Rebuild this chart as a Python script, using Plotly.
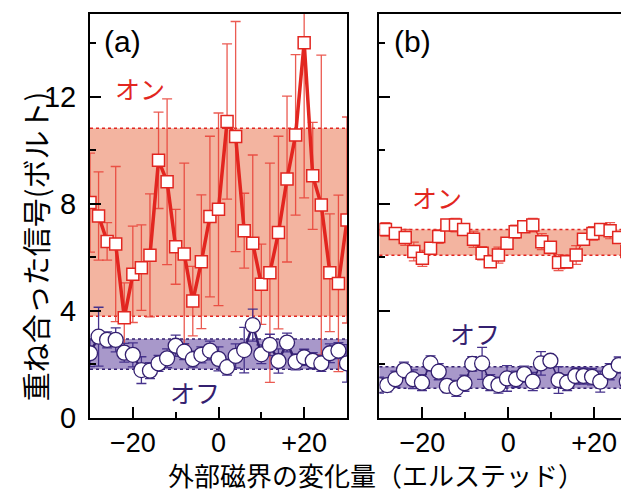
import plotly.graph_objects as go

# ---------------- data ----------------
x_a = [-30, -28, -26, -24, -22, -20, -18, -16, -14, -12, -10, -8, -6, -4, -2, 0,
       2, 4, 6, 8, 10, 12, 14, 16, 18, 20, 22, 24, 26, 28, 30]
on_a = [8.05, 7.55, 6.6, 6.5, 3.75, 5.37, 5.62, 6.08, 9.63, 8.83, 6.40, 6.13, 4.37, 5.84, 7.53, 7.8,
        11.08, 10.52, 7.0, 6.53, 5.0, 5.43, 6.93, 8.93, 10.58, 14.03, 9.05, 7.96, 5.43, 5.03, 7.4]
on_a_err = [1.85, 1.65, 0.7, 2.9, 1.3, 1.8, 1.6, 2.3, 1.8, 3.1, 1.4, 3.4, 1.3, 2.5, 3.0, 3.6,
            2.9, 4.3, 1.4, 3.3, 1.5, 4.1, 3.6, 3.1, 3.0, 5.8, 2.0, 5.6, 2.2, 3.3, 3.85]
off_a = [2.42, 3.04, 2.92, 2.92, 2.44, 2.36, 1.79, 1.77, 2.04, 2.23, 2.70, 2.48, 2.20, 2.36, 2.52, 2.21,
         1.90, 2.32, 2.54, 3.47, 2.38, 2.73, 2.13, 2.82, 2.10, 2.27, 2.14, 2.04, 2.42, 2.52, 2.04]
off_a_err = [0.5, 1.1, 0.3, 0.45, 0.35, 0.45, 0.5, 0.3, 0.3, 0.35, 0.4, 0.3, 0.3, 0.3, 0.35, 0.45,
             0.3, 0.45, 0.85, 0.6, 0.35, 0.4, 0.45, 0.35, 0.3, 0.3, 0.3, 0.3, 0.35, 0.3, 0.7]

x_b_on = [-28.6, -26.3, -24.0, -22.0, -20.0, -18.1, -16.2, -14.3, -12.3, -10.4, -8.1, -6.1, -4.2, -2.3,
          -0.3, 1.6, 3.6, 5.7, 7.8, 9.8, 11.7, 13.6, 15.8, 17.5, 19.7, 21.5, 23.7, 25.7, 27.6]
on_b = [7.05, 6.90, 6.75, 6.22, 5.97, 6.34, 6.78, 7.21, 7.21, 7.05, 6.68, 6.16, 5.84, 6.09,
        6.53, 6.96, 7.15, 7.21, 6.59, 6.38, 5.81, 5.84, 6.09, 6.68, 6.90, 7.05, 7.00, 6.75, 6.22]
on_b_err = [0.25, 0.2, 0.3, 0.35, 0.3, 0.2, 0.25, 0.2, 0.25, 0.2, 0.3, 0.25, 0.2, 0.3,
            0.2, 0.25, 0.2, 0.25, 0.3, 0.2, 0.3, 0.25, 0.35, 0.2, 0.25, 0.2, 0.3, 0.2, 0.3]
x_b_off = [-30.1, -28.2, -26.3, -24.3, -22.2, -20.1, -18.1, -16.2, -14.3, -12.1, -10.2, -8.4, -6.1, -4.2,
           -2.3, -0.3, 1.8, 3.7, 5.7, 7.6, 9.8, 11.7, 13.7, 15.6, 17.5, 19.5, 21.4, 23.6, 25.7, 27.6]
off_b = [1.23, 1.23, 1.45, 1.79, 1.45, 1.32, 2.04, 1.73, 1.20, 1.11, 1.30, 2.02, 2.04, 1.32,
         1.23, 1.48, 1.45, 1.64, 1.36, 2.04, 2.14, 1.42, 1.32, 1.57, 1.57, 1.54, 1.36, 1.73, 1.98, 1.36]
off_b_err = [0.3, 0.25, 0.3, 0.3, 0.35, 0.3, 0.28, 0.3, 0.25, 0.3, 0.3, 0.27, 0.6, 0.3,
             0.3, 0.48, 0.3, 0.3, 0.34, 0.44, 0.18, 0.5, 0.3, 0.3, 0.3, 0.3, 0.39, 0.3, 0.3, 0.44]

band_a_on = [3.8, 10.83]
band_a_off = [1.82, 2.95]
band_b_on = [6.08, 7.05]
band_b_off = [1.11, 1.92]

x_tickvals = [-20, 0, 20]
x_ticktext = ["\u221220", "0", "+20"]
y_tickvals = [0, 4, 8, 12]
y_ticktext = ["0", "4", "8", "12"]

# ---------------- style ----------------
RED = "rgb(226,38,32)"
RED_ERR = "rgba(232,62,52,0.85)"
RED_FILL = "rgb(243,180,160)"
PUR = "rgb(52,32,112)"
PUR_ERR = "rgb(70,50,140)"
PUR_FILL = "rgb(168,152,202)"
FONT = "Liberation Sans, Arial, sans-serif"
JP = "Noto Sans CJK JP, sans-serif"

fig = go.Figure()

# panel (a)
fig.add_trace(go.Scatter(
    x=x_a, y=on_a, mode="lines+markers", xaxis="x", yaxis="y",
    line=dict(color=RED, width=3.5),
    marker=dict(symbol="square", size=12, color="white", line=dict(color=RED, width=1.5)),
    error_y=dict(type="data", array=on_a_err, color=RED_ERR, thickness=1.3, width=5),
    showlegend=False))
fig.add_trace(go.Scatter(
    x=x_a, y=off_a, mode="lines+markers", xaxis="x", yaxis="y",
    line=dict(color=PUR, width=2.5),
    marker=dict(symbol="circle", size=15, color="white", line=dict(color=PUR, width=1.3)),
    error_y=dict(type="data", array=off_a_err, color=PUR_ERR, thickness=1.3, width=5),
    showlegend=False))

# panel (b)
fig.add_trace(go.Scatter(
    x=x_b_on, y=on_b, mode="lines+markers", xaxis="x2", yaxis="y2",
    line=dict(color=RED, width=1.2),
    marker=dict(symbol="square", size=12, color="white", line=dict(color=RED, width=1.5)),
    error_y=dict(type="data", array=on_b_err, color=RED_ERR, thickness=1.2, width=5),
    showlegend=False))
fig.add_trace(go.Scatter(
    x=x_b_off, y=off_b, mode="lines+markers", xaxis="x2", yaxis="y2",
    line=dict(color=PUR, width=1.5),
    marker=dict(symbol="circle", size=15, color="white", line=dict(color=PUR, width=1.3)),
    error_y=dict(type="data", array=off_b_err, color=PUR_ERR, thickness=1.3, width=5),
    showlegend=False))

shapes = []
for xr, yr, band, fill, col in [
    ("x", "y", band_a_on, RED_FILL, RED), ("x", "y", band_a_off, PUR_FILL, PUR),
    ("x2", "y2", band_b_on, RED_FILL, RED), ("x2", "y2", band_b_off, PUR_FILL, PUR)]:
    shapes.append(dict(type="rect", xref=xr + " domain", yref=yr, x0=0, x1=1,
                       y0=band[0], y1=band[1], fillcolor=fill, line=dict(width=0), layer="below"))
    for yv in band:
        shapes.append(dict(type="line", xref=xr + " domain", yref=yr, x0=0, x1=1,
                           y0=yv, y1=yv, line=dict(color=col, width=1.5, dash="dot"), layer="below"))

common_x = dict(showline=True, linecolor="black", linewidth=2, mirror=True,
                ticks="inside", ticklen=11, tickwidth=2, tickcolor="black",
                tickvals=x_tickvals, ticktext=x_ticktext,
                tickfont=dict(family=FONT, size=27, color="black"),
                minor=dict(ticks="inside", ticklen=6, tickwidth=2, tickcolor="black",
                           tickmode="array", tickvals=[-10, 10]),
                showgrid=False, zeroline=False)
common_y = dict(showline=True, linecolor="black", linewidth=2,
                ticks="inside", ticklen=11, tickwidth=2, tickcolor="black",
                tickvals=y_tickvals, range=[0, 15.1],
                minor=dict(ticks="inside", ticklen=6, tickwidth=2, tickcolor="black",
                           tickmode="array", tickvals=[2, 6, 10, 14]),
                showgrid=False, zeroline=False)

# page has an 8px body margin, so the figure is sized/offset to compensate
fig.update_layout(
    width=621, height=486,
    margin=dict(l=82, r=0, t=6, b=76),
    paper_bgcolor="white", plot_bgcolor="white",
    xaxis=dict(domain=[0, 0.4768], range=[-30, 30], anchor="y", **common_x),
    xaxis2=dict(domain=[0.537, 1], range=[-30, 28.1], anchor="y2", **common_x),
    yaxis=dict(anchor="x", mirror=True, ticktext=y_ticktext, ticklabelstandoff=6,
               tickfont=dict(family=FONT, size=29, color="black"), **common_y),
    yaxis2=dict(anchor="x2", mirror=False, showticklabels=False, **common_y),
    shapes=shapes,
    annotations=[
        dict(text="(a)", x=-27.1, y=14.06, xref="x", yref="y", xanchor="left", yanchor="middle",
             showarrow=False, font=dict(family=FONT, size=30, color="black")),
        dict(text="(b)", x=-27.0, y=14.06, xref="x2", yref="y2", xanchor="left", yanchor="middle",
             showarrow=False, font=dict(family=FONT, size=30, color="black")),
        dict(text="オン", x=-24.6, y=12.34, xref="x", yref="y", xanchor="left", yanchor="middle",
             showarrow=False, font=dict(family=JP, size=25, color=RED)),
        dict(text="オフ", x=-11.7, y=0.97, xref="x", yref="y", xanchor="left", yanchor="middle",
             showarrow=False, font=dict(family=JP, size=25, color=PUR)),
        dict(text="オン", x=-22.8, y=8.26, xref="x2", yref="y2", xanchor="left", yanchor="middle",
             showarrow=False, font=dict(family=JP, size=25, color=RED)),
        dict(text="オフ", x=-14.0, y=3.18, xref="x2", yref="y2", xanchor="left", yanchor="middle",
             showarrow=False, font=dict(family=JP, size=25, color=PUR)),
        dict(text="重ね合った信号(ボルト)", x=-0.102, y=0.425, xref="paper", yref="paper",
             textangle=-90, xanchor="center", yanchor="middle", showarrow=False,
             font=dict(family=JP, size=29, color="black")),
        dict(text="外部磁界の変化量（エルステッド）", x=0.5306, y=-0.1405, xref="paper", yref="paper",
             xanchor="center", yanchor="middle", showarrow=False,
             font=dict(family=JP, size=26, color="black")),
    ],
)

fig.write_html("out.html")
